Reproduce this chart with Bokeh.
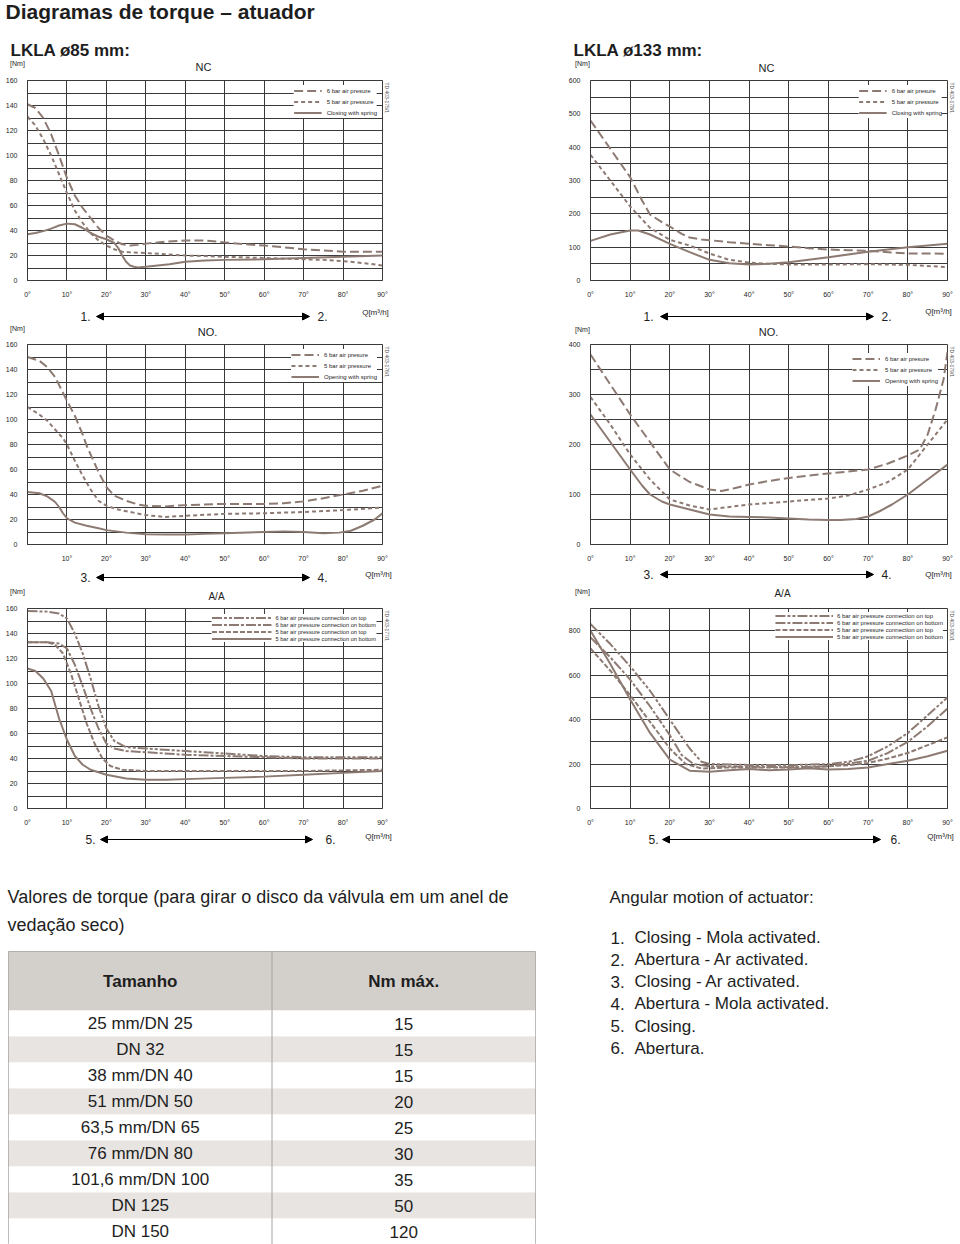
from bokeh.plotting import figure
from bokeh.models import Range1d, FixedTicker, Label, Arrow, NormalHead, Legend, LegendItem, Title
from bokeh.layouts import column, row
from bokeh.embed import file_html
from bokeh.resources import INLINE
from bokeh.core.properties import value

FONT = "Liberation Sans"
LINE = "#8c7a73"
GRID = "#3a3a3a"
TXT = "#1e1e1e"

# ---------------- data ----------------
DEG_TICKS = [0, 10, 20, 30, 40, 50, 60, 70, 80, 90]

# LKLA 85 mm, NC
nc85_6_x = [0, 2, 4, 6, 8, 10, 12, 14, 16, 18, 20, 22, 24, 26, 28, 30, 35, 40, 45, 50, 55, 60, 65, 70, 75, 80, 85, 90]
nc85_6_y = [141, 138, 130, 117, 100, 82, 68, 58, 50, 42, 36, 32, 29, 28, 28.5, 29.5, 31, 32, 32, 30.5, 29, 28, 26.5, 25, 24, 23, 23, 23]
nc85_5_x = [0, 2, 4, 6, 8, 10, 12, 14, 16, 18, 20, 22, 24, 26, 30, 35, 40, 45, 50, 60, 70, 75, 80, 85, 90]
nc85_5_y = [131, 124, 113, 100, 85, 70, 56, 46, 38, 32, 28, 25, 23, 22.5, 22, 21, 20, 19.5, 19, 18, 17, 16.5, 15.5, 14, 12]
nc85_s_x = [0, 2, 4, 6, 8, 10, 12, 14, 16, 18, 20, 22, 23, 24, 25, 26, 27, 28, 30, 33, 36, 40, 45, 50, 60, 70, 80, 90]
nc85_s_y = [37, 38, 39.5, 41.5, 44, 45.5, 45, 42, 38, 35, 33, 30, 26, 20, 15, 12, 11, 10.5, 11, 12, 13, 15, 16, 16.5, 17, 18, 19, 20]

# LKLA 133 mm, NC
nc133_6_x = [0, 5, 10, 13, 15, 18, 20, 23, 25, 28, 30, 35, 40, 45, 50, 55, 60, 65, 70, 75, 80, 85, 90]
nc133_6_y = [480, 395, 310, 240, 198, 175, 162, 140, 129, 123, 121, 115, 110, 106, 102, 97, 93, 91, 89, 85, 81, 81, 80]
nc133_5_x = [0, 5, 10, 15, 20, 25, 30, 35, 40, 45, 50, 60, 70, 80, 90]
nc133_5_y = [377, 300, 222, 158, 122, 105, 81, 62, 54, 50, 48, 48, 49, 47, 40]
nc133_s_x = [0, 5, 10, 12, 15, 20, 25, 30, 35, 40, 45, 50, 60, 70, 80, 90]
nc133_s_y = [119, 138, 150, 150, 138, 110, 85, 62, 52, 48, 50, 55, 70, 86, 100, 110]

# LKLA 85 mm, NO
no85_6_x = [0, 3, 5, 7, 10, 12, 14, 15, 17, 18, 20, 22, 25, 28, 30, 35, 40, 50, 60, 65, 70, 75, 80, 85, 90]
no85_6_y = [150, 147, 142, 134, 115, 103, 88, 79, 65, 58, 46, 39, 35, 32, 31, 30.5, 31.5, 32.5, 32.5, 33, 34.5, 37, 40, 43, 47]
no85_5_x = [0, 3, 5, 7, 9, 10, 12, 14, 16, 18, 20, 23, 26, 30, 35, 40, 50, 60, 70, 80, 90]
no85_5_y = [110, 104, 99, 92, 85, 80, 67, 55, 44, 35, 31, 28, 26, 23.5, 22, 23, 24.5, 25, 26, 27.5, 29.5]
no85_s_x = [0, 3, 5, 7, 8, 9, 10, 12, 15, 18, 20, 25, 30, 35, 40, 45, 50, 60, 65, 70, 75, 79, 82, 85, 88, 90]
no85_s_y = [42, 41, 38.5, 34, 30, 25, 21, 17.5, 15, 13, 11.5, 9.5, 8.2, 8, 8, 8.5, 9, 10, 10.5, 10, 9, 9.5, 11, 15, 20, 25]

# LKLA 133 mm, NO
no133_6_x = [0, 5, 10, 15, 20, 25, 30, 33, 36, 40, 45, 50, 55, 60, 65, 70, 75, 80, 83, 85, 87, 89, 90]
no133_6_y = [380, 320, 260, 205, 150, 125, 110, 107, 112, 120, 127, 133, 138, 142, 146, 150, 162, 178, 190, 220, 270, 330, 385]
no133_5_x = [0, 5, 10, 15, 20, 25, 30, 35, 40, 45, 50, 55, 60, 65, 70, 75, 80, 83, 85, 88, 90]
no133_5_y = [295, 240, 180, 130, 90, 78, 70, 75, 80, 83, 86, 89, 92, 98, 110, 125, 150, 180, 200, 230, 250]
no133_s_x = [0, 5, 10, 13, 15, 18, 20, 25, 30, 35, 40, 45, 50, 55, 60, 63, 67, 70, 73, 76, 80, 85, 90]
no133_s_y = [260, 205, 150, 118, 100, 86, 80, 70, 60, 56, 55, 54, 52, 50, 49, 49, 51, 56, 67, 80, 100, 130, 160]

# LKLA 85 mm, A/A
aa85_6t_x = [0, 5, 8, 10, 12, 14, 16, 18, 20, 22, 25, 30, 40, 50, 60, 70, 80, 90]
aa85_6t_y = [158, 157.5, 156, 152, 140, 124, 104, 82, 64, 54, 49, 48, 46, 44, 42, 41, 41, 41]
aa85_6b_x = [0, 5, 8, 10, 12, 14, 16, 18, 20, 22, 25, 30, 40, 50, 60, 70, 80, 90]
aa85_6b_y = [133, 133, 132, 128, 115, 98, 80, 64, 52, 48, 46, 45, 43, 42, 41, 40, 40, 40]
aa85_5t_x = [0, 5, 7, 9, 11, 13, 15, 17, 19, 21, 24, 30, 40, 50, 60, 70, 80, 90]
aa85_5t_y = [133, 133, 131, 124, 108, 88, 68, 52, 40, 34, 31, 30, 30, 30, 30, 30, 30.5, 31]
aa85_5b_x = [0, 2, 4, 6, 8, 10, 12, 14, 16, 18, 20, 25, 30, 35, 40, 50, 60, 70, 80, 90]
aa85_5b_y = [112, 110, 104, 94, 72, 55, 42, 35, 31, 29, 27, 24, 23, 23, 23.5, 24.5, 25.5, 27, 28.5, 30]

# LKLA 133 mm, A/A
aa133_6t_x = [0, 5, 10, 15, 20, 25, 28, 30, 35, 40, 50, 60, 65, 70, 75, 80, 85, 90]
aa133_6t_y = [830, 740, 640, 530, 400, 270, 210, 200, 198, 196, 195, 200, 210, 235, 280, 340, 420, 500]
aa133_6b_x = [0, 5, 10, 15, 20, 23, 26, 30, 40, 50, 60, 70, 75, 80, 85, 90]
aa133_6b_y = [770, 680, 580, 460, 330, 240, 200, 190, 188, 186, 190, 215, 250, 300, 370, 450]
aa133_5t_x = [0, 5, 10, 15, 20, 24, 28, 35, 45, 55, 65, 70, 75, 80, 85, 90]
aa133_5t_y = [720, 620, 510, 390, 270, 200, 180, 185, 185, 185, 195, 205, 225, 250, 285, 320]
aa133_5b_x = [0, 5, 10, 15, 20, 25, 30, 35, 40, 45, 50, 55, 60, 65, 70, 75, 80, 85, 90]
aa133_5b_y = [800, 650, 490, 340, 220, 170, 165, 172, 178, 172, 176, 181, 175, 178, 185, 200, 215, 235, 260]

legend_nc = ["6 bar air presure", "5 bar air pressure", "Closing with spring"]
legend_no = ["6 bar air presure", "5 bar air pressure", "Opening with spring"]
legend_aa = ["6 bar air pressure connection on top", "6 bar air pressure connection on bottom",
             "5 bar air pressure connection on top", "5 bar air pressure connection on bottom"]

table_sizes = ["25 mm/DN 25", "DN 32", "38 mm/DN 40", "51 mm/DN 50", "63,5 mm/DN 65",
               "76 mm/DN 80", "101,6 mm/DN 100", "DN 125", "DN 150"]
table_nm = [15, 15, 15, 20, 25, 30, 35, 50, 120]
table_headers = ["Tamanho", "Nm máx."]

motion_nums = ["1.", "2.", "3.", "4.", "5.", "6."]
motion_texts = ["Closing - Mola activated.", "Abertura - Ar activated.", "Closing - Ar activated.",
                "Abertura - Mola activated.", "Closing.", "Abertura."]

DASH_3 = ["9 4", "4 3", "solid"]
DASH_4 = ["10 2 3 2 3 2", "10 2 3 2", "5 2", "solid"]
FRAME_H = 207


def lab(p, x, y, text, size, align="center", bold=False, color=TXT):
    p.add_layout(Label(x=x, y=y, text=text, text_font=FONT,
                       text_font_size=f"{size}px", text_align=align, text_baseline="middle",
                       text_color=color, text_font_style="bold" if bold else "normal"))


def make_chart(width, left, right, top, bottom, ymax, ylabels, ygrid, series, labels, dashes, td_code,
               zero_label=True, lg_font=6, lg_glyph_w=28, lg_lh=11, lg_margin=5, lg_pad=3, lg_standoff=5):
    height = top + FRAME_H + bottom
    p = figure(width=width, height=height, x_range=Range1d(0, 90), y_range=Range1d(0, ymax),
               output_backend="svg", toolbar_location=None,
               min_border_left=left, min_border_right=right,
               min_border_top=top, min_border_bottom=bottom)
    p.background_fill_color = "white"
    p.border_fill_color = "white"
    p.outline_line_color = GRID
    p.outline_line_width = 1
    p.xaxis.ticker = FixedTicker(ticks=DEG_TICKS)
    overrides = {t: f"{t}°" for t in DEG_TICKS}
    if not zero_label:
        overrides[0] = ""
    p.xaxis.major_label_overrides = overrides
    p.yaxis.ticker = FixedTicker(ticks=ylabels)
    p.xgrid.ticker = FixedTicker(ticks=DEG_TICKS)
    p.ygrid.ticker = FixedTicker(ticks=list(range(0, ymax + 1, ygrid)))
    for g in (p.xgrid, p.ygrid):
        g.grid_line_color = GRID
        g.grid_line_width = 1
        g.grid_line_alpha = 1
    for ax in (p.xaxis, p.yaxis):
        ax.axis_line_color = GRID
        ax.axis_line_width = 1
        ax.major_tick_line_color = None
        ax.minor_tick_line_color = None
        ax.major_label_text_font = FONT
        ax.major_label_text_font_size = "7px"
        ax.major_label_text_color = TXT
        ax.major_label_standoff = 4

    items = []
    for (xs, ys), name, dash in zip(series, labels, dashes):
        r = p.line(xs, ys, line_color=LINE, line_width=2, line_dash=dash)
        items.append(LegendItem(label=name, renderers=[r]))
    lg = Legend(items=items, location="top_right", label_text_font=FONT,
                label_text_font_size=f"{lg_font}px", label_text_color=TXT,
                label_height=lg_lh, glyph_height=lg_lh, glyph_width=lg_glyph_w,
                label_standoff=lg_standoff, spacing=0, padding=lg_pad, margin=lg_margin,
                border_line_color=None, background_fill_color="white", background_fill_alpha=1)
    p.add_layout(lg)
    p.add_layout(Title(text=td_code, text_font=FONT, text_font_size="5px", text_color="#555555",
                       text_font_style="normal", align="left", standoff=2, offset=2), "right")
    return p


def blank(width, height, **kw):
    p = figure(width=width, height=height, x_range=Range1d(0, width), y_range=Range1d(height, 0),
               output_backend="svg", toolbar_location=None, x_axis_location=None, y_axis_location=None,
               min_border=0, **kw)
    p.outline_line_color = None
    p.background_fill_color = "white"
    p.border_fill_color = "white"
    for g in p.grid:
        g.visible = False
    return p


def arrow_block(p, y, n1, x1, n2, x2, xs, xe):
    lab(p, x1, y, n1, 12)
    lab(p, x2, y, n2, 12)
    p.add_layout(Arrow(x_start=xs, y_start=y, x_end=xe, y_end=y,
                       start=NormalHead(size=7, fill_color="black", line_color="black"),
                       end=NormalHead(size=7, fill_color="black", line_color="black"),
                       line_color="black", line_width=1))


# ---------------- charts ----------------
c1 = make_chart(480, 27, 98, 5, 13, 160, list(range(0, 161, 20)), 10,
                [(nc85_6_x, nc85_6_y), (nc85_5_x, nc85_5_y), (nc85_s_x, nc85_s_y)], legend_nc, DASH_3,
                "TD 403-175/1")
c2 = make_chart(480, 110, 13, 5, 13, 600, list(range(0, 601, 100)), 50,
                [(nc133_6_x, nc133_6_y), (nc133_5_x, nc133_5_y), (nc133_s_x, nc133_s_y)], legend_nc, DASH_3,
                "TD 403-178/1")
c3 = make_chart(480, 27, 98, 6, 13, 160, list(range(0, 161, 20)), 10,
                [(no85_6_x, no85_6_y), (no85_5_x, no85_5_y), (no85_s_x, no85_s_y)], legend_no, DASH_3,
                "TD 403-176/1", zero_label=False)
c4 = make_chart(480, 110, 13, 6, 13, 400, list(range(0, 401, 100)), 50,
                [(no133_6_x, no133_6_y), (no133_5_x, no133_5_y), (no133_s_x, no133_s_y)], legend_no, DASH_3,
                "TD 403-179/1", lg_margin=9)
c5 = make_chart(480, 27, 98, 5, 13, 160, list(range(0, 161, 20)), 10,
                [(aa85_6t_x, aa85_6t_y), (aa85_6b_x, aa85_6b_y), (aa85_5t_x, aa85_5t_y), (aa85_5b_x, aa85_5b_y)],
                legend_aa, DASH_4, "TD 403-177/1",
                lg_font=5.7, lg_glyph_w=60, lg_lh=7, lg_margin=6, lg_pad=4, lg_standoff=4)
c6 = make_chart(480, 110, 13, 5, 13, 900, list(range(0, 801, 200)), 100,
                [(aa133_6t_x, aa133_6t_y), (aa133_6b_x, aa133_6b_y), (aa133_5t_x, aa133_5t_y), (aa133_5b_x, aa133_5b_y)],
                legend_aa, DASH_4, "TD 403-180/1",
                lg_font=6, lg_glyph_w=58, lg_lh=7, lg_margin=4, lg_pad=3, lg_standoff=4)

# ---------------- text bands ----------------
bandA = blank(960, 75)
lab(bandA, 5, 11, "Diagramas de torque – atuador", 21, align="left", bold=True)
lab(bandA, 10, 50, "LKLA ø85 mm:", 17, align="left", bold=True)
lab(bandA, 573, 50, "LKLA ø133 mm:", 17, align="left", bold=True)
lab(bandA, 17, 63, "[Nm]", 7)
lab(bandA, 582, 63, "[Nm]", 7)
lab(bandA, 203, 66, "NC", 11)
lab(bandA, 766, 67, "NC", 11)

bandB = blank(960, 38)
lab(bandB, 375, 12, "Q[m³/h]", 8)
lab(bandB, 938, 11, "Q[m³/h]", 8)
arrow_block(bandB, 16, "1.", 85, "2.", 322, 96, 309)
arrow_block(bandB, 16, "1.", 648, "2.", 886, 660, 873)
lab(bandB, 17, 28, "[Nm]", 7)
lab(bandB, 582, 29, "[Nm]", 7)
lab(bandB, 207, 31, "NO.", 11)
lab(bandB, 768, 31, "NO.", 11)

bandC = blank(960, 39)
lab(bandC, 378, 10, "Q[m³/h]", 8)
lab(bandC, 938, 10, "Q[m³/h]", 8)
arrow_block(bandC, 13, "3.", 85, "4.", 322, 96, 309)
arrow_block(bandC, 10, "3.", 648, "4.", 886, 660, 873)
lab(bandC, 17, 27, "[Nm]", 7)
lab(bandC, 582, 27, "[Nm]", 7)
lab(bandC, 216, 32, "A/A", 10)
lab(bandC, 782, 29, "A/A", 10)

bandD = blank(960, 24)
lab(bandD, 378, 8, "Q[m³/h]", 8)
lab(bandD, 940, 8, "Q[m³/h]", 8)
arrow_block(bandD, 11, "5.", 90, "6.", 330, 100, 312)
arrow_block(bandD, 11, "5.", 653, "6.", 895, 662, 880)

# text band above the table (also holds the list heading and first list item)
bandE = blank(960, 99)
lab(bandE, 7, 44, "Valores de torque (para girar o disco da válvula em um anel de", 18, align="left")
lab(bandE, 7, 72, "vedação seco)", 18, align="left")
lab(bandE, 609, 45, "Angular motion of actuator:", 17, align="left")
N_FIRST = 1
bandE.text(x=[610] * N_FIRST, y=[85] * N_FIRST, text=motion_nums[:N_FIRST], text_font=value(FONT),
           text_font_size="17px", text_align="left", text_baseline="middle", text_color=TXT)
bandE.text(x=[634] * N_FIRST, y=[85] * N_FIRST, text=motion_texts[:N_FIRST], text_font=value(FONT),
           text_font_size="17px", text_align="left", text_baseline="middle", text_color=TXT)

# table
HDR_UNITS = 59 / 26
n_rows = len(table_sizes)
T_UNITS = HDR_UNITS + n_rows
tb = figure(width=540, height=293, x_range=Range1d(0, 2), y_range=Range1d(T_UNITS, 0),
            output_backend="svg", toolbar_location=None, x_axis_location=None, y_axis_location=None,
            min_border_left=8, min_border_right=5, min_border_top=0, min_border_bottom=0)
for g in tb.grid:
    g.visible = False
tb.background_fill_color = "white"
tb.border_fill_color = "white"
tb.outline_line_color = "#a8a4a0"
row_idx = list(range(n_rows))
tb.quad(left=[0], right=[2], top=[0], bottom=[HDR_UNITS], fill_color="#d3cfcb", line_color=None)
tb.quad(left=[0] * n_rows, right=[2] * n_rows,
        top=[HDR_UNITS + i for i in row_idx], bottom=[HDR_UNITS + i + 1 for i in row_idx],
        fill_color=["white" if i % 2 == 0 else "#e7e4e1" for i in row_idx], line_color=None)
tb.segment(x0=[1], y0=[0], x1=[1], y1=[T_UNITS], line_color="#a8a4a0", line_width=1)
tb.text(x=[0.5, 1.5], y=[HDR_UNITS / 2] * 2, text=table_headers, text_font=value(FONT),
        text_font_size="17px", text_font_style="bold", text_align="center", text_baseline="middle",
        text_color=TXT)
tb.text(x=[0.5] * n_rows, y=[HDR_UNITS + i + 0.5 for i in row_idx], text=table_sizes, text_font=value(FONT),
        text_font_size="17px", text_align="center", text_baseline="middle", text_color=TXT)
tb.text(x=[1.5] * n_rows, y=[HDR_UNITS + i + 0.5 for i in row_idx], text=[str(v) for v in table_nm],
        text_font=value(FONT), text_font_size="17px", text_align="center", text_baseline="middle",
        text_color=TXT)

# right-hand list (remaining items)
lf = blank(420, 293)
rest = list(range(len(motion_nums) - N_FIRST))
lf.text(x=[70] * len(rest), y=[8 + 22.2 * i for i in rest], text=motion_nums[N_FIRST:], text_font=value(FONT),
        text_font_size="17px", text_align="left", text_baseline="middle", text_color=TXT)
lf.text(x=[94] * len(rest), y=[8 + 22.2 * i for i in rest], text=motion_texts[N_FIRST:], text_font=value(FONT),
        text_font_size="17px", text_align="left", text_baseline="middle", text_color=TXT)

layout = column(bandA, row(c1, c2), bandB, row(c3, c4), bandC, row(c5, c6), bandD, bandE,
                row(tb, lf))

open("out.html", "w").write(file_html(layout, INLINE))
